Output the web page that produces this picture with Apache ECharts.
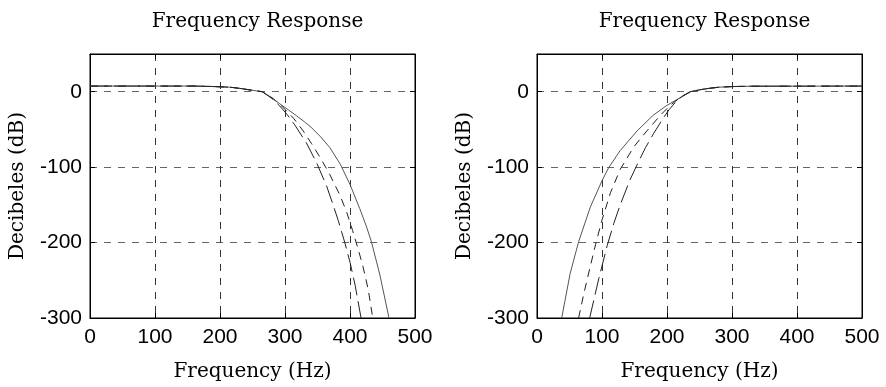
<!DOCTYPE html>
<html>
<head>
<meta charset="utf-8">
<script src="https://cdn.jsdelivr.net/npm/echarts@6/dist/echarts.min.js"></script>
<style>
  html, body { margin: 0; padding: 0; background: #fff; }
  #chart { width: 886px; height: 387px; }
</style>
</head>
<body>
<div id="chart"></div>
<script>
// Axis ranges and tick labels
const freqTicks = [0, 100, 200, 300, 400, 500];
const dbTicks = [-300, -200, -100, 0];
const titleText = 'Frequency Response';
const xName = 'Frequency (Hz)';
const yName = 'Decibeles (dB)';

// Low-pass responses: [Hz, dB]
const lowSolid = [
  [0, 7.5], [160, 7.5], [185, 7], [200, 6.5], [215, 6], [230, 4.5], [245, 2.5], [265, 0],
  [278, -7], [292, -16], [305, -24], [318, -32], [330, -40], [340, -47], [355, -60],
  [369, -74], [385, -96], [400, -123], [415, -155], [425, -178], [433, -199],
  [446, -243], [460, -300]
];
const lowDashed = [
  [0, 7.5], [160, 7.5], [185, 7], [200, 6.5], [215, 6], [230, 4.5], [245, 2.5], [265, 0],
  [280, -8], [295, -19], [313, -35], [328, -52], [341, -69], [356, -90], [369, -110],
  [385, -138], [395, -160], [404, -184], [413, -210], [420, -232], [428, -262], [435, -300]
];
const lowDashDot = [
  [0, 7.5], [160, 7.5], [185, 7], [200, 6.5], [215, 6], [230, 4.5], [245, 2.5], [265, 0],
  [280, -9], [292, -19], [303, -30], [315, -44], [333, -68], [349, -95], [364, -125],
  [374, -150], [382, -171], [392, -200], [400, -226], [408, -257], [417, -300]
];

// High-pass responses: [Hz, dB]
const highSolid = [
  [38, -300], [51, -241], [64, -199], [82, -153], [100, -118], [110, -101], [128, -78],
  [154, -52], [179, -31], [200, -18], [220, -8], [236, 0], [250, 2.5], [265, 4.5],
  [280, 6], [300, 6.8], [330, 7.3], [500, 7.5]
];
const highDashed = [
  [64, -300], [72, -268], [81, -235], [90, -203], [100, -170], [113, -134], [128, -103],
  [149, -73], [169, -52], [190, -31], [205, -18], [220, -8], [236, 0], [250, 2.5],
  [265, 4.5], [280, 6], [300, 6.8], [330, 7.3], [500, 7.5]
];
const highDashDot = [
  [81, -300], [95, -248], [108, -204], [118, -175], [128, -150], [143, -117], [155, -95],
  [167, -74], [179, -56], [192, -38], [203, -24], [215, -12], [225, -5], [236, 0],
  [250, 2.5], [265, 4.5], [280, 6], [300, 6.8], [330, 7.3], [500, 7.5]
];

const serif = 'DejaVu Serif';
const sans = 'Liberation Sans';
const gridDash = [7, 7];

const panels = [
  { left: 90, series: [lowSolid, lowDashed, lowDashDot] },
  { left: 537, series: [highSolid, highDashed, highDashDot] }
];
const styles = [
  { type: 'solid', color: '#555' },
  { type: [8, 6], color: '#222' },
  { type: [18, 6], color: '#222' }
];

const grids = [], xAxes = [], yAxes = [], series = [], titles = [];
panels.forEach((p, i) => {
  grids.push({
    left: p.left, top: 54, width: 325, height: 264,
    show: true, borderColor: '#000', borderWidth: 1, backgroundColor: '#fff'
  });
  titles.push({
    text: titleText, left: p.left + 162.5, top: 7, textAlign: 'center',
    textStyle: { fontFamily: serif, fontSize: 20, fontWeight: 'normal', color: '#000' }
  });
  const tickStyle = { show: true, inside: true, length: 5, lineStyle: { color: '#000' } };
  // bottom axis with labels
  xAxes.push({
    gridIndex: i, type: 'value', min: 0, max: 500, interval: 100, position: 'bottom',
    name: xName, nameLocation: 'middle', nameGap: 44,
    nameTextStyle: { fontFamily: serif, fontSize: 20, color: '#000' },
    axisLine: { show: true, onZero: false, lineStyle: { color: '#000' } },
    axisTick: tickStyle,
    axisLabel: { fontFamily: sans, fontSize: 21, color: '#000', margin: 9,
      formatter: v => freqTicks.includes(v) ? String(v) : '' },
    splitLine: { show: true, lineStyle: { color: '#333', type: gridDash } }
  });
  // top axis: ticks only
  xAxes.push({
    gridIndex: i, type: 'value', min: 0, max: 500, interval: 100, position: 'top',
    axisLine: { show: true, onZero: false, lineStyle: { color: '#000' } },
    axisTick: tickStyle, axisLabel: { show: false }, splitLine: { show: false }
  });
  yAxes.push({
    gridIndex: i, type: 'value', min: -300, max: 50, interval: 100, position: 'left',
    name: yName, nameLocation: 'middle', nameGap: 62, nameRotate: 90,
    nameTextStyle: { fontFamily: serif, fontSize: 20, color: '#000' },
    axisLine: { show: true, onZero: false, lineStyle: { color: '#000' } },
    axisTick: tickStyle,
    axisLabel: { fontFamily: sans, fontSize: 21, color: '#000', margin: 8, showMaxLabel: false,
      formatter: v => dbTicks.includes(v) ? String(v) : '' },
    splitLine: { show: true, lineStyle: { color: '#666', type: gridDash } }
  });
  yAxes.push({
    gridIndex: i, type: 'value', min: -300, max: 50, interval: 100, position: 'right',
    axisLine: { show: true, onZero: false, lineStyle: { color: '#000' } },
    axisTick: tickStyle, axisLabel: { show: false }, splitLine: { show: false }
  });
  p.series.forEach((d, k) => {
    series.push({
      type: 'line', xAxisIndex: i * 2, yAxisIndex: i * 2, data: d,
      showSymbol: false, smooth: false, clip: true,
      lineStyle: { width: 1, type: styles[k].type, color: styles[k].color },
      silent: true
    });
  });
});

const chart = echarts.init(document.getElementById('chart'), null, { renderer: 'canvas' });
chart.setOption({
  animation: false,
  backgroundColor: '#fff',
  title: titles,
  grid: grids,
  xAxis: xAxes,
  yAxis: yAxes,
  series: series
});
</script>
</body>
</html>
